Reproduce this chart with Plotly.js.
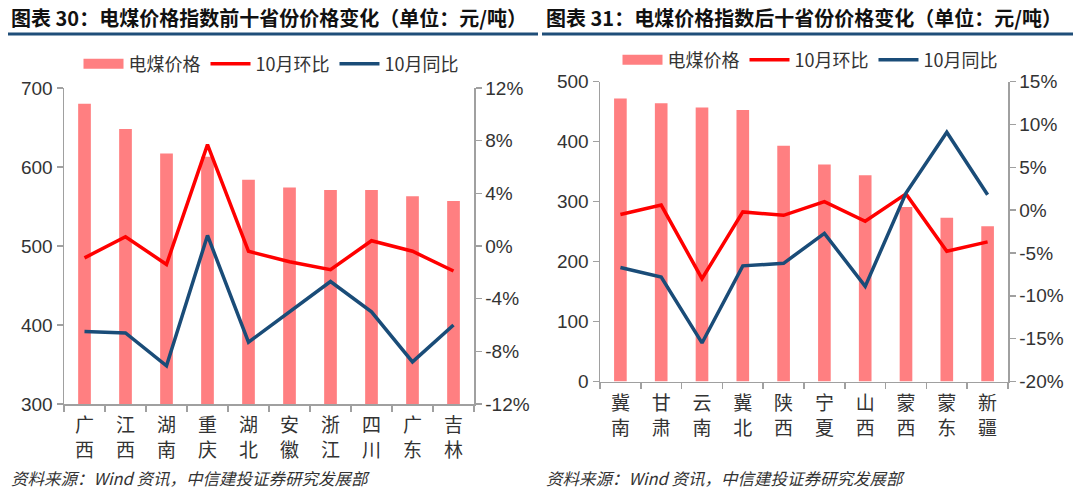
<!DOCTYPE html>
<html>
<head>
<meta charset="utf-8">
<script src="https://cdn.plot.ly/plotly-3.0.1.min.js"></script>
<style>
html,body{margin:0;padding:0;background:#fff;}
#chart{width:1080px;height:495px;}
</style>
</head>
<body>
<div id="chart"></div>
<script>
// ---- Data ----
const titleLeft = '图表 30：电煤价格指数前十省份价格变化（单位：元/吨）';
const titleRight = '图表 31：电煤价格指数后十省份价格变化（单位：元/吨）';
const sourceText = '资料来源：Wind 资讯，中信建投证券研究发展部';
const seriesNames = ['电煤价格', '10月环比', '10月同比'];

const provincesTop = ['广西','江西','湖南','重庆','湖北','安徽','浙江','四川','广东','吉林'];
const priceTop = [680, 648, 617, 613, 584, 574, 571, 571, 563, 557];
const momTop = [-0.9, 0.7, -1.4, 7.7, -0.4, -1.2, -1.8, 0.4, -0.4, -1.9];
const yoyTop = [-6.5, -6.6, -9.1, 0.8, -7.3, -5.0, -2.7, -5.0, -8.8, -6.0];

const provincesBottom = ['冀南','甘肃','云南','冀北','陕西','宁夏','山西','蒙西','蒙东','新疆'];
const priceBottom = [472, 464, 457, 453, 393, 362, 344, 291, 273, 259];
const momBottom = [-0.5, 0.6, -8.0, -0.2, -0.6, 1.0, -1.3, 1.9, -4.8, -3.7];
const yoyBottom = [-6.7, -7.8, -15.5, -6.5, -6.2, -2.7, -8.9, 2.0, 9.1, 1.8];

// tick labels
const priceTicksTop = [300, 400, 500, 600, 700];
const priceTickLabelsTop = ['300', '400', '500', '600', '700'];
const pctTicksTop = [-12, -8, -4, 0, 4, 8, 12];
const pctTickLabelsTop = ['-12%', '-8%', '-4%', '0%', '4%', '8%', '12%'];
const priceTicksBottom = [0, 100, 200, 300, 400, 500];
const priceTickLabelsBottom = ['0', '100', '200', '300', '400', '500'];
const pctTicksBottom = [-20, -15, -10, -5, 0, 5, 10, 15];
const pctTickLabelsBottom = ['-20%', '-15%', '-10%', '-5%', '0%', '5%', '10%', '15%'];

// ---- Styles ----
const BAR = '#FF7F81';
const RED = '#FF0000';
const BLUE = '#1A4C78';
const AXIS = '#A0A0A0';
const TXT = '#333333';
const FONT = 'Liberation Sans, Arial, Noto Sans CJK SC, sans-serif';
const CJK = 'Noto Sans CJK SC, sans-serif';

const W = 1080, H = 495;
const px = v => v / W;
const py = v => (H - v) / H;

function vert(arr){ return arr.map(s => s.split('').join('<br>')); }

function makeTraces(cats, price, mom, yoy, xa, ya, ya2, leg){
  return [
    {type:'bar', x:cats, y:price, xaxis:xa, yaxis:ya, marker:{color:BAR},
     name:seriesNames[0], showlegend:false, legend:leg, hoverinfo:'x+y'},
    {type:'scatter', mode:'lines', x:[null], y:[null], xaxis:xa, yaxis:ya,
     name:seriesNames[0], line:{color:BAR, width:11}, legend:leg, hoverinfo:'skip'},
    {type:'scatter', mode:'lines', x:cats, y:mom, xaxis:xa, yaxis:ya2,
     name:seriesNames[1], line:{color:RED, width:3.5}, legend:leg},
    {type:'scatter', mode:'lines', x:cats, y:yoy, xaxis:xa, yaxis:ya2,
     name:seriesNames[2], line:{color:BLUE, width:3.5}, legend:leg}
  ];
}

const data = [].concat(
  makeTraces(provincesTop, priceTop, momTop, yoyTop, 'x', 'y', 'y2', 'legend'),
  makeTraces(provincesBottom, priceBottom, momBottom, yoyBottom, 'x2', 'y3', 'y4', 'legend2')
);

function xAxis(domain, cats, anchor){
  return {domain:domain, anchor:anchor, type:'category',
    tickmode:'array', tickvals:cats, ticktext:vert(cats),
    tickson:'boundaries', ticks:'outside', ticklen:6, tickcolor:AXIS, tickwidth:1.5,
    ticklabelstandoff:4,
    showline:true, linecolor:AXIS, linewidth:1.5, showgrid:false, zeroline:false,
    tickfont:{family:CJK, size:19, color:TXT}, fixedrange:true};
}
function yAxis(domain, range, vals, labels, anchor, side, overlay){
  const a = {domain:domain, anchor:anchor, side:side, range:range,
    tickmode:'array', tickvals:vals, ticktext:labels,
    ticks:'outside', ticklen:6, tickcolor:AXIS, tickwidth:1.5,
    showline:true, linecolor:AXIS, linewidth:1.5, showgrid:false, zeroline:false,
    tickfont:{family:FONT, size:19, color:TXT}, fixedrange:true};
  if (overlay) a.overlaying = overlay;
  return a;
}

const dxL = [px(64), px(474)], dyL = [py(404), py(88)];
const dxR = [px(600), px(1008)], dyR = [py(381.5), py(81.7)];

const legendBase = {orientation:'h', xanchor:'center', yanchor:'middle',
  font:{family:CJK, size:18, color:TXT}, bgcolor:'rgba(0,0,0,0)', itemwidth:40, traceorder:'normal'};

const layout = {
  width:W, height:H,
  margin:{l:0, r:0, t:0, b:0},
  paper_bgcolor:'#fff', plot_bgcolor:'rgba(0,0,0,0)',
  showlegend:true,
  bargap:0.69,
  xaxis: xAxis(dxL, provincesTop, 'y'),
  yaxis: yAxis(dyL, [300, 700], priceTicksTop, priceTickLabelsTop, 'x', 'left'),
  yaxis2: yAxis(dyL, [-12, 12], pctTicksTop, pctTickLabelsTop, 'x', 'right', 'y'),
  xaxis2: xAxis(dxR, provincesBottom, 'y3'),
  yaxis3: yAxis(dyR, [0, 500], priceTicksBottom, priceTickLabelsBottom, 'x2', 'left'),
  yaxis4: yAxis(dyR, [-20, 15], pctTicksBottom, pctTickLabelsBottom, 'x2', 'right', 'y3'),
  legend: Object.assign({}, legendBase, {x:px(271), y:py(64)}),
  legend2: Object.assign({}, legendBase, {x:px(810), y:py(60)}),
  annotations: [
    {xref:'paper', yref:'paper', x:px(9), y:py(17), xanchor:'left', yanchor:'middle', showarrow:false,
     text:'<b>'+titleLeft+'</b>', font:{family:CJK, size:20, color:'#111'}},
    {xref:'paper', yref:'paper', x:px(544), y:py(17), xanchor:'left', yanchor:'middle', showarrow:false,
     text:'<b>'+titleRight+'</b>', font:{family:CJK, size:20, color:'#111'}},
    {xref:'paper', yref:'paper', x:px(9), y:py(478), xanchor:'left', yanchor:'middle', showarrow:false,
     text:'<i>'+sourceText+'</i>', font:{family:CJK, size:16.5, color:'#333'}},
    {xref:'paper', yref:'paper', x:px(544), y:py(478), xanchor:'left', yanchor:'middle', showarrow:false,
     text:'<i>'+sourceText+'</i>', font:{family:CJK, size:16.5, color:'#333'}}
  ],
  shapes: [
    {type:'line', xref:'paper', yref:'paper', x0:px(8), x1:px(538), y0:py(34), y1:py(34),
     line:{color:'#1F4E79', width:3}},
    {type:'line', xref:'paper', yref:'paper', x0:px(542), x1:px(1073), y0:py(34), y1:py(34),
     line:{color:'#1F4E79', width:3}}
  ]
};

Plotly.newPlot('chart', data, layout, {displayModeBar:false, staticPlot:true});
</script>
</body>
</html>
